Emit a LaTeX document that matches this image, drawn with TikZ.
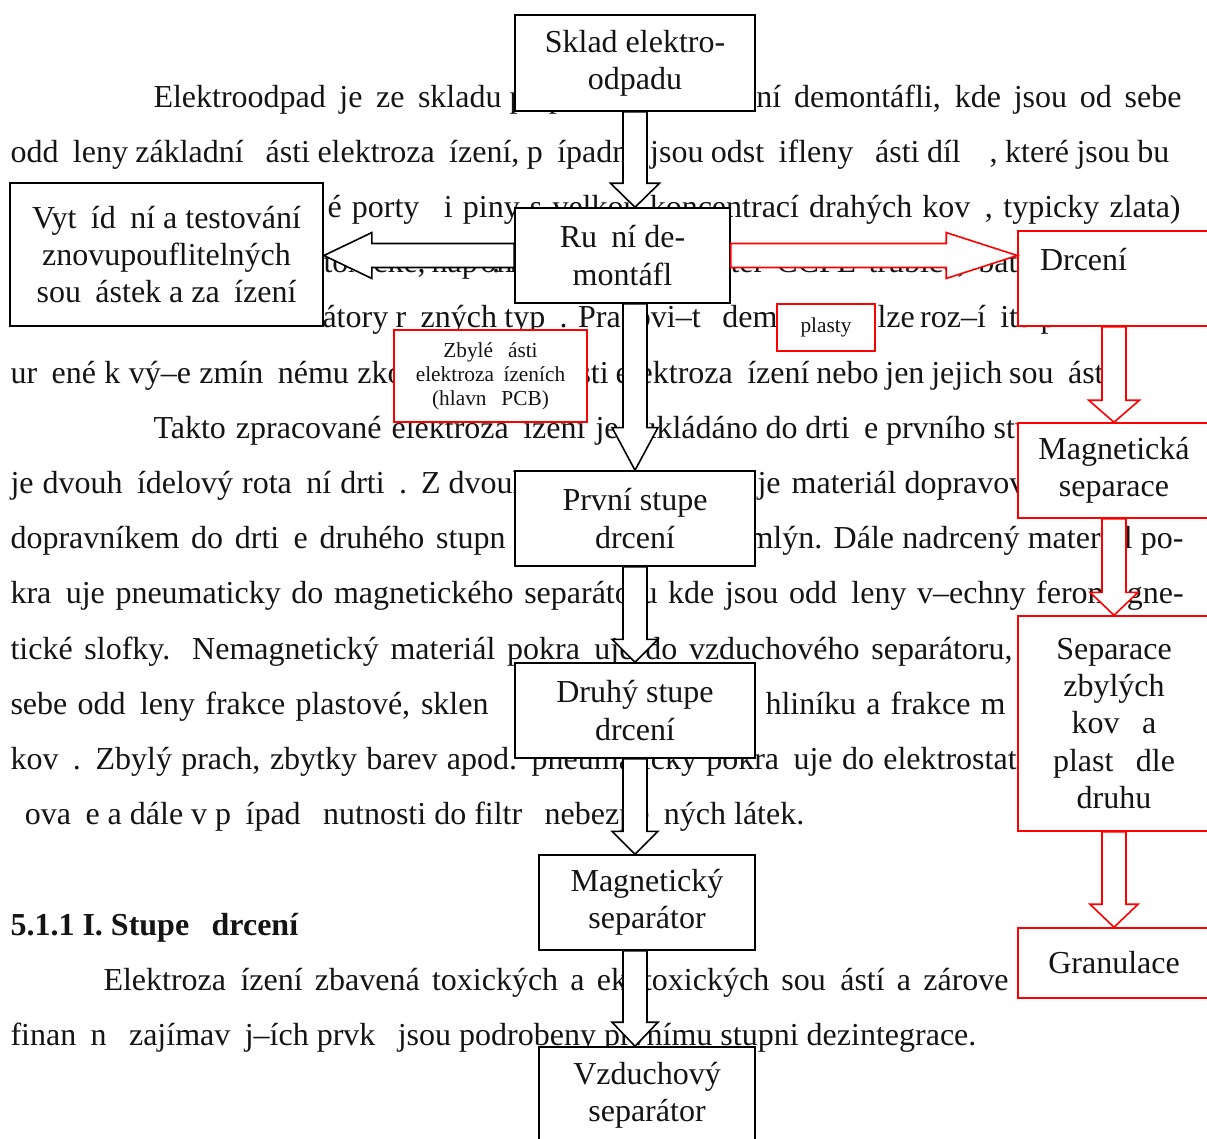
\documentclass[tikz,border=0pt]{standalone}
\usepackage{fontspec}
\setmainfont{Liberation Serif}
\usetikzlibrary{positioning,calc}
\definecolor{colorbox}  {RGB}{  0,  0,  0}
\definecolor{colorred}  {RGB}{255,  0,  0}
\definecolor{colortext} {RGB}{ 20, 20, 20}
\newlength{\pxu}
\setlength{\pxu}{0.375pt}
\newcommand{\miss}{\hspace{0.45em}}
\newcommand{\jline}[2]{\makebox[#1\pxu][s]{#2}}
\newcommand{\blockarrow}[5][]{%
    \coordinate (bahead) at ($(#3)!#4!(#2)$);
    \draw[#1] ($(#2)!4.5pt!90:(#3)$) -- ($(bahead)!4.5pt!-90:(#2)$)
        -- ($(bahead)!#5!-90:(#2)$) -- (#3) -- ($(bahead)!#5!90:(#2)$)
        -- ($(bahead)!4.5pt!90:(#2)$) -- ($(#2)!4.5pt!-90:(#3)$) -- cycle;
}

\begin{document}
\begin{tikzpicture}[
    x=0.375pt, y={(0pt,-0.375pt)},
    font={\fontsize{12}{14}\selectfont},
    txt/.style={text=colortext,inner sep=0pt,anchor=base west},
    box/.style={draw=colorbox,fill=white,line width=0.6pt,text=colortext,align=center,inner sep=0pt,minimum height=35.6pt},
    redbox/.style={box,draw=colorred},
    small/.style={font={\fontsize{8}{9}\selectfont}},
    blk/.style={draw=colorbox,fill=white,line width=0.6pt},
    redblk/.style={blk,draw=colorred},
]

    \useasboundingbox (0,0) rectangle (1207,1138);
    \clip (0,0) rectangle (1207,1138);

    \node[txt] (l1a) at (153,107) {\jline{348}{Elektroodpad je ze skladu}\ p\miss ipraven k ru};
    \node[txt,anchor=base east] (l1b) at (1182,107) {\jline{425}{ní demontáfli, kde jsou od sebe}};
    \node[txt] (l2) at (10,162.2) {\jline{1173}{odd\miss leny základní \miss ásti elektroza\miss ízení, p\miss ípadn\miss{} jsou odst\miss ifleny \miss ásti díl\miss\miss, které jsou bu\miss}};
    \node[txt] (l3) at (327,217.4) {\jline{853}{é porty \miss i piny s velkou koncentrací drahých kov\miss , typicky zlata)}};
    \node[txt] (l4a) at (323,272.6) {\jline{157}{toxické, nap\miss . m}onitory};
    \node[txt] (l4b) at (730,272.6) {\jline{287}{ter CCFL trubice, bat}erie};
    \node[txt] (l5a) at (322,327.8) {\jline{455}{átory r\miss zných typ\miss . Pracovi–t\miss{} dem}ontáfle};
    \node[txt] (l5b) at (877,327.8) {\jline{131}{lze roz–í\miss it} o p};
    \node[txt] (l6a) at (10,383) {\jline{377}{ur\miss ené k vý–e zmín\miss nému zk}oumání};
    \node[txt] (l6b) at (578,383) {\jline{525}{sti elektroza\miss ízení nebo jen jejich sou\miss ást}i.};
    \node[txt] (l7a) at (153,438.2) {\jline{465}{Takto zpracované elektroza\miss ízení je}};
    \node[txt] (l7b) at (640,438.2) {\jline{345}{ukládáno do drti\miss e prvního} stupn\miss};
    \node[txt] (l8a) at (10,493.4) {\jline{430}{je dvouh\miss ídelový rota\miss ní drti\miss . Z} dvouh\miss ídelového};
    \node[txt] (l8b) at (757,493.4) {\jline{139}{je materiál} dopravován pásovým};
    \node[txt] (l9a) at (10,548.6) {\jline{495}{dopravníkem do drti\miss e druhého stupn}\miss};
    \node[txt] (l9b) at (748,548.6) {\jline{435}{mlýn. Dále nadrcený materiál po-}};
    \node[txt] (l10) at (10,603.8) {\jline{1173}{kra\miss uje pneumaticky do magnetického separátoru kde jsou odd\miss leny v–echny feromagne-}};
    \node[txt] (l11) at (10,659) {\jline{1002}{tické slofky. Nemagnetický materiál pokra\miss uje do vzduchového separátoru,} kde jsou od};
    \node[txt] (l12a) at (10,714.2) {\jline{478}{sebe odd\miss leny frakce plastové, sklen}\miss\miss n\miss};
    \node[txt] (l12b) at (765,714.2) {\jline{240}{hliníku a frakce m}\miss di};
    \node[txt] (l13) at (10,769.4) {\jline{1006}{kov\miss . Zbylý prach, zbytky barev apod. pneumaticky pokra\miss uje do elektrostat}ického};
    \node[txt] (l14) at (10,824.6) {\miss ova\miss e a dále v p\miss ípad\miss{} nutnosti do filtr\miss{} nebezpe\miss ných látek.};
    \node[txt,font={\fontsize{12}{14}\selectfont\bfseries}] (head) at (10,935) {5.1.1 I. Stupe\miss{} drcení};
    \node[txt] (l15) at (103,990) {\jline{905}{Elektroza\miss ízení zbavená toxických a ekotoxických sou\miss ástí a zárove}\miss};
    \node[txt] (l16) at (10,1045) {finan\miss n\miss{} zajímav\miss j–ích prvk\miss{} jsou podrobeny prvnímu stupni dezintegrace.};

    \node[box,minimum width=90pt,minimum height=36pt] (sklad)  at (635,63)    {Sklad elektro-\\odpadu};
    \node[box,minimum width=80.6pt]                   (ruc)    at (622.5,255.5) {Ru\miss ní de-\\montáfl};
    \node[box,minimum width=117.4pt,minimum height=53.6pt] (vyt) at (166.5,254.5) {Vyt\miss íd\miss ní a testování\\znovupouflitelných\\sou\miss ástek a za\miss ízení};
    \node[box,minimum width=90pt]                     (prvni)  at (635,518.5) {První stupe\miss\\drcení};
    \node[box,minimum width=90pt]                     (druhy)  at (635,710.5) {Druhý stupe\miss\\drcení};
    \node[box,minimum width=81pt]                     (magsep) at (647,902.5) {Magnetický\\separátor};
    \node[box,minimum width=81pt,minimum height=36pt] (vzduch) at (647,1095)  {Vzduchový\\separátor};

    \node[redbox,small,minimum width=36.75pt,minimum height=17.6pt] (plasty) at (826,327.5) {plasty};
    \node[redbox,small,minimum width=72.4pt,minimum height=34.5pt]  (zbyle)  at (490.5,376) {Zbylé \miss ásti\\elektroza\miss ízeních\\(hlavn\miss{} PCB)};
    \node[redbox,minimum width=72pt,text width=55.5pt,inner xsep=8.25pt,align=left] (drceni) at (1114,278.5) {Drcení\\\mbox{}};
    \node[redbox,minimum width=72pt]                        (magsepar)  at (1114,470.5) {Magnetická\\separace};
    \node[redbox,minimum width=72pt,minimum height=80.6pt]  (separace)  at (1114,723.5) {Separace\\zbylých\\kov\miss{} a\\plast\miss{} dle\\druhu};
    \node[redbox,minimum width=72pt,minimum height=26.25pt] (granulace) at (1114,963)   {Granulace};

    \blockarrow[blk]{sklad.south}{ruc.north -| sklad.south}{9pt}{9.2pt}
    \blockarrow[blk]{ruc.south -| sklad.south}{prvni.north}{16pt}{8.6pt}
    \blockarrow[blk]{prvni.south}{druhy.north}{8.6pt}{8.6pt}
    \blockarrow[blk]{druhy.south}{magsep.north -| druhy.south}{8.6pt}{8.6pt}
    \blockarrow[blk]{magsep.south -| druhy.south}{vzduch.north -| druhy.south}{9pt}{8.6pt}
    \blockarrow[blk]{ruc.west}{vyt.east |- ruc.west}{18pt}{8.6pt}

    \blockarrow[redblk]{ruc.east}{drceni.west |- ruc.east}{26.6pt}{8.6pt}
    \blockarrow[redblk]{drceni.south}{magsepar.north}{8.25pt}{9.5pt}
    \blockarrow[redblk]{magsepar.south}{separace.north}{8.6pt}{9pt}
    \blockarrow[redblk]{separace.south}{granulace.north}{8.6pt}{9pt}

\end{tikzpicture}
\end{document}
